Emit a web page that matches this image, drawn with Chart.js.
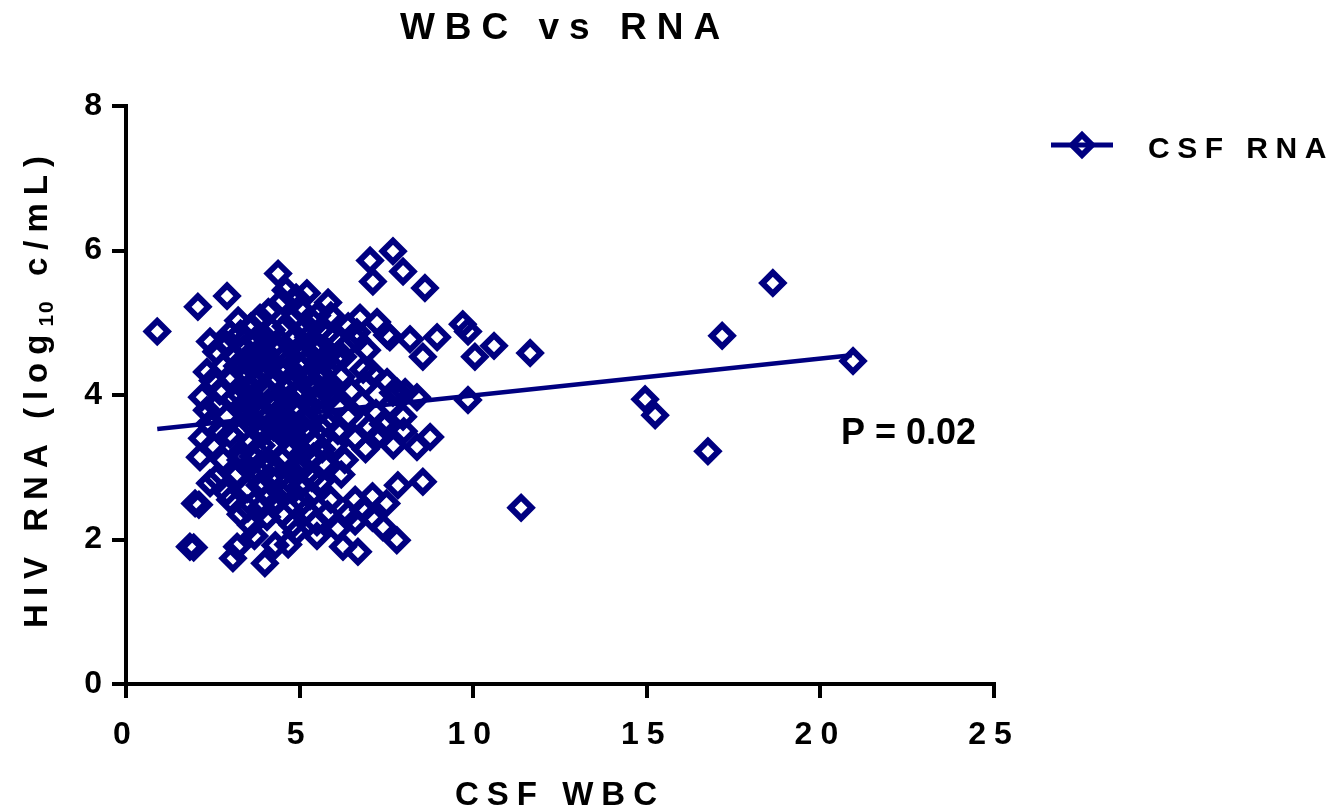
<!DOCTYPE html>
<html>
<head>
<meta charset="utf-8">
<script src="https://cdn.jsdelivr.net/npm/chart.js@4.4.1/dist/chart.umd.min.js"></script>
<style>
  html, body { margin: 0; padding: 0; background: #fff; }
  #wrap { width: 1330px; height: 811px; }
</style>
</head>
<body>
<div id="wrap"><canvas id="chart" width="1330" height="811"></canvas></div>
<script>
// CSF WBC (x) vs HIV RNA log10 c/mL (y)
const csfPoints = [
    [0.9, 4.88], [2.07, 5.22], [2.91, 5.37], [4.38, 5.68], [5.21, 5.41], [5.82, 5.28], [7.03, 5.86], [7.69, 5.99],
    [7.98, 5.71], [7.11, 5.57], [8.61, 5.48], [3.23, 5.03], [3.86, 5.07], [2.42, 4.74], [9.7, 4.98], [9.85, 4.88],
    [6.74, 5.07], [7.23, 5.01], [7.6, 4.8], [8.18, 4.77], [8.96, 4.8], [2.33, 4.32], [2.19, 3.97], [2.33, 3.79],
    [2.19, 3.4], [2.13, 3.14], [2.42, 2.78], [1.99, 2.5], [2.1, 2.48], [1.84, 1.9], [1.95, 1.89], [3.2, 1.9],
    [3.08, 1.74], [4.0, 1.67], [4.3, 1.92], [4.67, 1.93], [4.06, 2.31], [3.51, 2.43], [5.5, 2.24], [6.25, 1.9],
    [6.68, 1.83], [7.8, 1.99], [7.4, 2.17], [6.83, 2.41], [7.83, 2.75], [8.55, 2.8], [8.76, 3.42], [8.38, 3.28],
    [7.98, 3.7], [7.52, 4.18], [6.83, 4.35], [6.25, 4.53], [6.65, 4.87], [7.52, 4.83], [8.55, 4.53], [10.05, 4.53],
    [9.85, 3.93], [8.38, 3.97], [10.6, 4.68], [11.64, 4.58], [11.38, 2.44], [14.95, 3.94], [15.24, 3.72], [16.76, 3.22],
    [17.17, 4.82], [18.63, 5.55], [20.94, 4.47],
    // upper part of the cluster
    [3.6, 4.95], [4.1, 5.15], [4.5, 5.3], [4.8, 5.05], [5.0, 5.2], [5.4, 5.0], [5.9, 5.1], [4.2, 4.9],
    [3.3, 4.85], [5.6, 4.9], [4.6, 5.45], [4.9, 5.35], [5.5, 5.1], [6.4, 4.95], [6.65, 4.76], [6.94, 4.62],
    [2.6, 4.6], [2.9, 4.7], [3.1, 4.55], [3.4, 4.65], [3.7, 4.75], [4.0, 4.6], [4.3, 4.7], [4.6, 4.55],
    [4.9, 4.8], [5.2, 4.6], [5.5, 4.7], [5.8, 4.55], [6.0, 4.8], [3.0, 4.85], [3.9, 4.5], [5.1, 4.9],
    [5.7, 4.45], [6.4, 4.7],
    // middle
    [2.5, 4.2], [2.8, 4.4], [2.7, 4.05], [3.0, 4.25], [3.2, 4.4], [3.5, 4.1], [3.8, 4.3], [4.1, 4.05],
    [4.4, 4.35], [4.7, 4.15], [5.0, 4.4], [5.3, 4.1], [5.6, 4.3], [5.9, 4.15], [6.2, 4.25], [6.5, 4.05],
    [6.9, 4.15], [3.3, 4.0], [4.2, 4.45], [5.5, 4.45], [7.1, 4.3], [3.6, 4.45], [7.69, 4.03], [8.04, 4.04],
    [2.4, 3.6], [2.6, 3.85], [2.9, 3.7], [3.1, 3.95], [3.4, 3.55], [3.7, 3.8], [4.0, 3.65], [4.3, 3.9],
    [4.6, 3.6], [4.9, 3.85], [5.2, 3.7], [5.5, 3.95], [5.8, 3.6], [6.1, 3.85], [6.4, 3.7], [6.8, 3.9],
    [7.2, 3.75], [7.6, 3.85], [3.6, 3.95], [4.8, 3.55], [5.9, 3.98], [7.0, 3.55], [7.8, 4.05], [7.4, 3.6],
    [2.5, 3.3], [2.8, 3.1], [3.0, 3.45], [3.3, 3.2], [3.6, 3.35], [3.9, 3.05], [4.2, 3.3], [4.5, 3.1],
    [4.8, 3.45], [5.1, 3.2], [5.4, 3.35], [5.7, 3.05], [6.0, 3.3], [6.3, 3.1], [6.6, 3.4], [6.9, 3.25],
    [7.3, 3.45], [7.7, 3.3], [8.0, 3.5], [2.7, 3.5], [4.0, 3.5], [5.2, 3.5], [3.5, 3.0], [6.1, 3.5],
    // dense core
    [3.4, 4.3], [3.7, 4.55], [4.0, 4.8], [4.3, 4.2], [4.6, 4.95], [4.9, 4.6], [5.2, 4.25], [5.5, 4.6],
    [5.8, 4.85], [3.5, 3.75], [3.8, 3.5], [4.1, 3.9], [4.4, 3.7], [4.7, 3.95], [5.0, 3.6], [5.3, 3.85],
    [5.6, 3.55], [3.3, 3.1], [3.6, 3.6], [3.9, 3.3], [4.2, 3.05], [4.5, 3.5], [4.8, 3.25], [5.1, 3.0],
    [5.4, 3.15], [3.45, 4.5], [3.75, 4.15], [4.05, 4.35], [4.35, 4.6], [4.65, 4.35], [4.95, 4.05], [5.25, 4.8],
    [5.55, 3.75], [3.35, 3.85], [3.65, 3.15], [3.95, 3.75], [4.25, 3.55], [4.55, 3.85], [4.85, 4.25], [5.15, 4.45],
    [5.45, 4.15], [5.75, 4.1], [6.05, 4.5], [3.85, 2.75], [4.15, 2.85], [4.45, 2.65], [4.75, 2.95], [5.05, 2.75],
    [5.35, 2.85], [5.65, 3.25],
    // lower part
    [2.6, 2.85], [2.9, 2.65], [3.2, 2.9], [3.5, 2.7], [3.8, 2.95], [4.1, 2.6], [4.4, 2.85], [4.7, 2.7],
    [5.0, 2.95], [5.3, 2.6], [5.6, 2.8], [5.9, 2.55], [6.2, 2.9], [4.3, 2.5], [3.0, 2.55], [5.1, 2.52],
    [7.1, 2.6], [7.5, 2.5], [6.6, 2.55], [4.9, 3.0],
    [3.3, 2.35], [3.6, 2.2], [3.9, 2.45], [4.5, 2.35], [4.8, 2.2], [5.2, 2.4], [5.8, 2.35], [6.1, 2.15],
    [6.4, 2.35], [3.7, 2.05], [4.9, 2.1], [6.6, 2.25], [7.1, 2.3], [5.5, 2.05]
];

// linear fit, end points
const fitWbc = [0.9, 20.9];
const fitRna = [3.53, 4.55];

const xTicks = [0, 5, 10, 15, 20, 25];
const yTicks = [0, 2, 4, 6, 8];

const titleText = 'WBC vs RNA';
const xTitle = 'CSF WBC';
const yTitleParts = ['HIV RNA (log', '10', ' c/mL)'];
const seriesName = 'CSF RNA';
const pText = 'P = 0.02';

const NAVY = '#000080';
const FONT = "'Liberation Sans', Arial, Helvetica, sans-serif";

const spacing = {
    id: 'spacing',
    beforeUpdate(chart) { chart.ctx.letterSpacing = '8px'; },
    beforeDraw(chart) { chart.ctx.letterSpacing = '8px'; }
};

const decor = {
    id: 'decor',
    afterDraw(chart) {
        const { ctx, chartArea } = chart;
        ctx.save();
        ctx.fillStyle = '#000';
        ctx.textBaseline = 'alphabetic';
        ctx.textAlign = 'left';

        // title, centred over the plot
        ctx.font = `bold 37px ${FONT}`;
        ctx.letterSpacing = '10px';
        const tw = ctx.measureText(titleText).width - 10;
        ctx.fillText(titleText, (chartArea.left + chartArea.right) / 2 - tw / 2, 39);

        // y axis title with subscript
        const sizes = [33, 21, 33];
        const drops = [0, 6, 0];
        const gaps = [8, 2, 8];
        let total = 0;
        yTitleParts.forEach((t, i) => {
            ctx.font = `bold ${sizes[i]}px ${FONT}`;
            ctx.letterSpacing = gaps[i] + 'px';
            total += ctx.measureText(t).width;
        });
        total -= 8;
        ctx.save();
        ctx.translate(47, (chartArea.top + chartArea.bottom) / 2);
        ctx.rotate(-Math.PI / 2);
        let px = -total / 2;
        yTitleParts.forEach((t, i) => {
            ctx.font = `bold ${sizes[i]}px ${FONT}`;
            ctx.letterSpacing = gaps[i] + 'px';
            ctx.fillText(t, px, drops[i]);
            px += ctx.measureText(t).width + (i === 1 ? 6 : 0);
        });
        ctx.restore();

        // legend
        ctx.strokeStyle = NAVY;
        ctx.lineWidth = 5;
        ctx.beginPath();
        ctx.moveTo(1051, 145);
        ctx.lineTo(1113, 145);
        ctx.stroke();
        ctx.lineWidth = 6;
        ctx.fillStyle = 'rgba(0,0,0,0)';
        Chart.helpers.drawPoint(ctx, { pointStyle: 'rectRot', radius: 10, borderWidth: 6, rotation: 0 }, 1082, 145);
        ctx.fillStyle = '#000';
        ctx.font = `bold 30px ${FONT}`;
        ctx.letterSpacing = '7.5px';
        ctx.fillText(seriesName, 1148, 158);

        // p value
        ctx.letterSpacing = '0px';
        ctx.font = `bold 36px ${FONT}`;
        ctx.fillText(pText, 841, 444);
        ctx.restore();
    }
};

const tickFont = { family: FONT, size: 32, weight: 'bold' };

new Chart(document.getElementById('chart'), {
    type: 'scatter',
    data: {
        datasets: [
            {
                label: seriesName,
                data: csfPoints.map(p => ({ x: p[0], y: p[1] })),
                pointStyle: 'rectRot',
                pointRadius: 10.5,
                pointHoverRadius: 10.5,
                pointBorderWidth: 6,
                borderColor: NAVY,
                backgroundColor: 'rgba(0,0,0,0)',
                order: 1
            },
            {
                type: 'line',
                label: 'fit',
                data: fitWbc.map((x, i) => ({ x, y: fitRna[i] })),
                borderColor: NAVY,
                borderWidth: 4.5,
                pointRadius: 0,
                fill: false,
                order: 0
            }
        ]
    },
    options: {
        responsive: false,
        animation: false,
        layout: { padding: { left: 0, right: 336, top: 106, bottom: 0 } },
        plugins: {
            legend: { display: false },
            title: { display: false },
            tooltip: { enabled: false }
        },
        scales: {
            x: {
                type: 'linear', min: 0, max: 25,
                afterFit: s => { s.height = 127; },
                afterBuildTicks: s => { s.ticks = xTicks.map(v => ({ value: v })); },
                grid: { drawOnChartArea: false, drawTicks: true, tickLength: 14, lineWidth: 4, color: '#000' },
                border: { display: true, width: 4, color: '#000' },
                ticks: { color: '#000', font: tickFont, padding: 18, maxRotation: 0 },
                title: {
                    display: true, text: xTitle, color: '#000',
                    font: { family: FONT, size: 33, weight: 'bold', lineHeight: 0.9 },
                    padding: 0
                }
            },
            y: {
                type: 'linear', min: 0, max: 8,
                afterFit: s => { s.width = 126; },
                afterBuildTicks: s => { s.ticks = yTicks.map(v => ({ value: v })); },
                grid: { drawOnChartArea: false, drawTicks: true, tickLength: 14, lineWidth: 4, color: '#000' },
                border: { display: true, width: 4, color: '#000' },
                ticks: { color: '#000', font: tickFont, padding: 2 }
            }
        }
    },
    plugins: [spacing, decor]
});
</script>
</body>
</html>
